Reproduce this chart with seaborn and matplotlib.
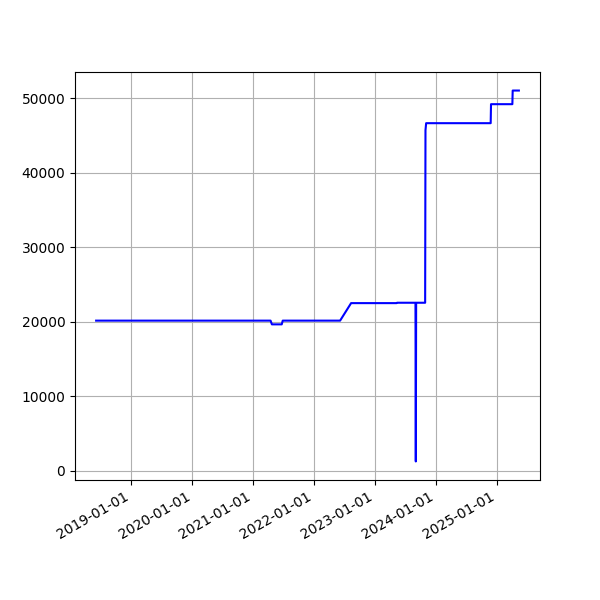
import pandas as pd
import matplotlib
matplotlib.use("Agg")
import matplotlib.pyplot as plt
import matplotlib.dates as mdates
import seaborn as sns

# breakpoints of the series
dates = [
    "2018-06-03", "2021-04-14", "2021-04-22", "2021-06-20", "2021-06-26",
    "2022-06-05", "2022-08-10", "2023-05-10", "2023-05-12", "2023-08-31",
    "2023-09-02", "2023-09-04", "2023-10-28", "2023-10-30", "2023-11-03",
    "2024-11-24", "2024-11-26", "2025-04-03", "2025-04-05", "2025-05-12",
]
values = [
    20150, 20150, 19650, 19650, 20150,
    20150, 22500, 22500, 22550, 22550,
    1250, 22550, 22550, 45700, 46650,
    46650, 49200, 49200, 51030, 51030,
]

df = pd.DataFrame({"date": pd.to_datetime(dates), "value": values})

fig, ax = plt.subplots(figsize=(6, 6), dpi=100)
sns.lineplot(data=df, x="date", y="value", color="blue", estimator=None,
             sort=False, ax=ax)
ax.xaxis.set_major_locator(mdates.YearLocator())
ax.xaxis.set_major_formatter(mdates.DateFormatter("%Y-%m-%d"))
ax.set_xlabel("")
ax.set_ylabel("")
ax.grid(True)
fig.autofmt_xdate()

fig.savefig("out.png")
